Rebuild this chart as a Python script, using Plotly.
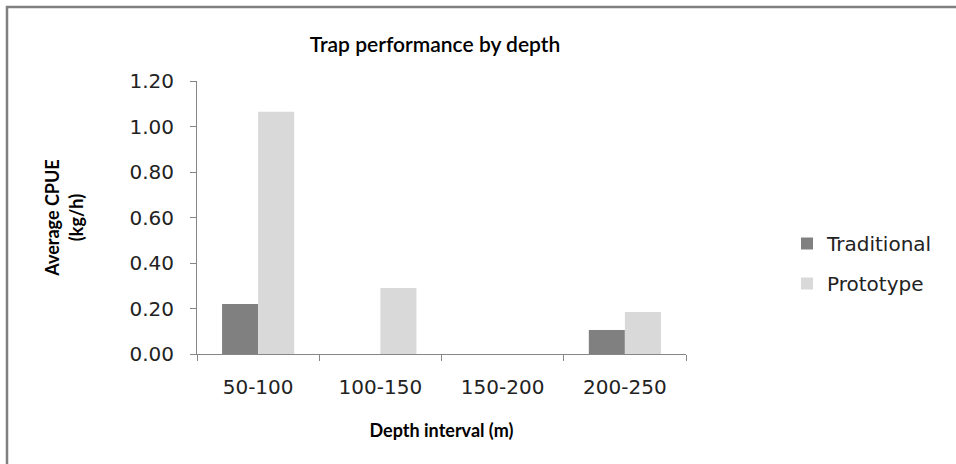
import plotly.graph_objects as go

categories = ["50-100", "100-150", "150-200", "200-250"]
traditional = [0.22, 0.0, 0.0, 0.105]
prototype = [1.065, 0.29, 0.0, 0.185]
y_ticks = [0.0, 0.2, 0.4, 0.6, 0.8, 1.0, 1.2]
y_tick_labels = ["0.00", "0.20", "0.40", "0.60", "0.80", "1.00", "1.20"]

TICK_FONT = dict(family="DejaVu Sans", size=20, color="#222222")
TITLE_FONT = "Lato"

fig = go.Figure()
fig.add_trace(go.Bar(name="Traditional", x=categories, y=traditional, legendgroup="a",
                     marker=dict(color="#808080", line=dict(width=0))))
fig.add_trace(go.Bar(name="Prototype", x=categories, y=prototype, legendgroup="b",
                     marker=dict(color="#d9d9d9", line=dict(width=0))))

L, R, T, B = 197, 270, 81, 110
W, H = 956, 464
pw, ph = W - L - R, H - T - B

fig.update_layout(
    width=W, height=H,
    margin=dict(l=L, r=R, t=T, b=B, pad=0),
    paper_bgcolor="white", plot_bgcolor="white",
    barmode="group", bargap=0.41, bargroupgap=0.0,
    title=dict(text="Trap performance by depth",
               font=dict(family=TITLE_FONT, size=21, color="#000000", weight=600),
               x=0.455, xanchor="center", y=1 - 45 / H, yanchor="middle"),
    xaxis=dict(
        type="category", tickson="boundaries",
        showline=True, linecolor="#868686", linewidth=1,
        ticks="outside", ticklen=6, tickcolor="#868686",
        tickfont=TICK_FONT, showgrid=False, ticklabelstandoff=15,
        title=dict(text="<b>Depth interval (m)</b>",
                   font=dict(family=TITLE_FONT, size=18, color="#000000"),
                   standoff=26),
    ),
    yaxis=dict(
        range=[0, 1.2], tickvals=y_ticks, ticktext=y_tick_labels,
        showline=True, linecolor="#868686", linewidth=1,
        ticks="outside", ticklen=6, tickcolor="#868686",
        tickfont=TICK_FONT, showgrid=False, zeroline=False, ticklabelstandoff=12,
        title=dict(text="<b>Average CPUE<br>(kg/h)</b>",
                   font=dict(family=TITLE_FONT, size=18, color="#000000"),
                   standoff=41),
    ),
    legend=dict(x=(787 - L) / pw, xanchor="left", y=(H - B - 224) / ph, yanchor="top",
                font=dict(family="DejaVu Sans", size=20, color="#222222"),
                itemsizing="constant", tracegroupgap=11, bgcolor="rgba(0,0,0,0)"),
    showlegend=True,
)

# chart border (top and left edges visible in the reference)
fig.add_shape(type="rect", xref="paper", yref="paper",
              x0=(7 - L) / pw, x1=(W + 20 - L) / pw,
              y0=-(B + 20) / ph, y1=(H - B - 7) / ph,
              line=dict(color="#808080", width=2.5), fillcolor="rgba(0,0,0,0)",
              layer="below")

fig.write_html("out.html")
